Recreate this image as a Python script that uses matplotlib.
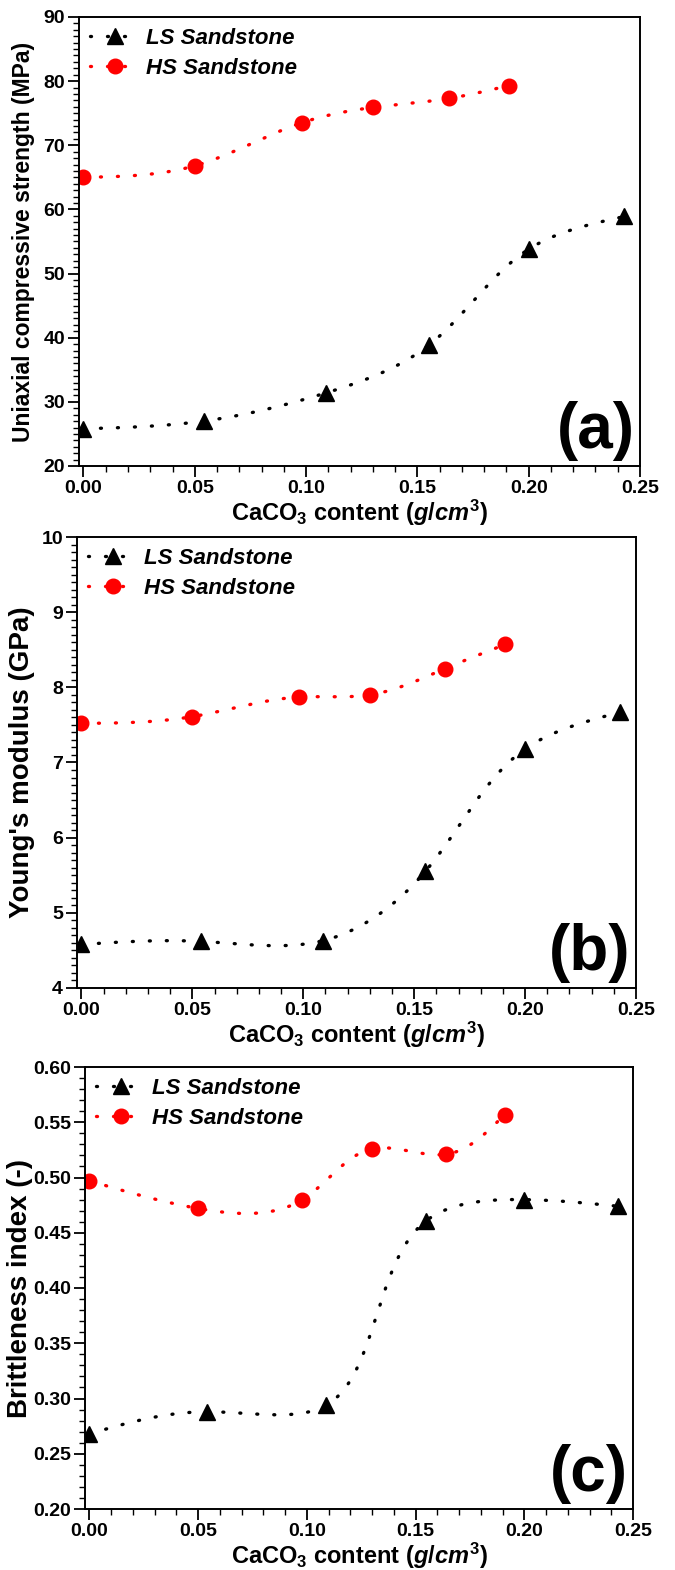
import numpy as np
import matplotlib
matplotlib.use("Agg")
import matplotlib.pyplot as plt
from matplotlib.ticker import MultipleLocator, FormatStrFormatter

plt.rcParams['font.family'] = ['Liberation Sans', 'DejaVu Sans']
plt.rcParams['font.weight'] = 'bold'
plt.rcParams['mathtext.fontset'] = 'custom'
plt.rcParams['mathtext.rm'] = 'Liberation Sans:bold'
plt.rcParams['mathtext.it'] = 'Liberation Sans:bold:italic'
plt.rcParams['mathtext.bf'] = 'Liberation Sans:bold'

# CaCO3 content (g/cm3)
ls_x = [0.0, 0.054, 0.109, 0.155, 0.200, 0.243]
hs_x = [0.0, 0.050, 0.098, 0.130, 0.164, 0.191]

# (a) UCS, MPa
ls_ucs = [25.8, 27.0, 31.4, 38.8, 53.8, 58.9]
hs_ucs = [65.0, 66.8, 73.5, 75.9, 77.3, 79.3]
# (b) Young's modulus, GPa
ls_e = [4.58, 4.62, 4.63, 5.55, 7.18, 7.67]
hs_e = [7.52, 7.61, 7.87, 7.90, 8.25, 8.57]
# (c) brittleness index
ls_bi = [0.268, 0.288, 0.294, 0.461, 0.480, 0.474]
hs_bi = [0.497, 0.472, 0.480, 0.526, 0.521, 0.557]


def natural(t, v, ts):
    k = len(t)
    h = np.diff(t)
    A = np.zeros((k, k))
    b = np.zeros(k)
    A[0, 0] = A[-1, -1] = 1
    for i in range(1, k - 1):
        A[i, i - 1] = h[i - 1]
        A[i, i] = 2 * (h[i - 1] + h[i])
        A[i, i + 1] = h[i]
        b[i] = 6 * ((v[i + 1] - v[i]) / h[i] - (v[i] - v[i - 1]) / h[i - 1])
    m = np.linalg.solve(A, b)
    j = np.clip(np.searchsorted(t, ts) - 1, 0, k - 2)
    d = ts - t[j]
    hj = h[j]
    c = (v[j + 1] - v[j]) / hj - hj * (2 * m[j] + m[j + 1]) / 6
    return v[j] + c * d + m[j] / 2 * d ** 2 + (m[j + 1] - m[j]) / (6 * hj) * d ** 3


def spline(x, y, sx, sy, n=300):
    # parametric spline through the points (connecting line only)
    x = np.asarray(x, float)
    y = np.asarray(y, float)
    px, py = x * sx, y * sy
    t = np.concatenate([[0], np.cumsum(np.hypot(np.diff(px), np.diff(py)))])
    ts = np.linspace(0, t[-1], n)
    return natural(t, x, ts), natural(t, y, ts)


W, H = 675, 1570
fig = plt.figure(figsize=(W / 100, H / 100), dpi=100)

panels = [
    # left, right, top, bottom px, ylim, major, minor, fmt, ylabel, size, label x, letter
    (79, 640, 17, 466, (20, 90), 10, 1, '%d', 'Uniaxial compressive strength (MPa)', 16.5, 35, '(a)',
     ls_ucs, hs_ucs),
    (77, 636, 537, 988, (4, 10), 1, 0.1, '%d', "Young's modulus (GPa)", 20, 35, '(b)',
     ls_e, hs_e),
    (85, 633, 1067, 1509, (0.2, 0.6), 0.05, 0.01, '%.2f', 'Brittleness index (-)', 20, 33, '(c)',
     ls_bi, hs_bi),
]

xlim = (-0.002, 0.25)
dots = (0, (0.3, 4.8))
lw = 2.4
for (l, r, t, bt, ylim, maj, mnr, fmt, ylab, ysz, labx, letter, ls_y, hs_y) in panels:
    ax = fig.add_axes([l / W, 1 - bt / H, (r - l) / W, (bt - t) / H])
    sx = (r - l) / (xlim[1] - xlim[0])
    sy = (bt - t) / (ylim[1] - ylim[0])
    xs, ys = spline(ls_x, ls_y, sx, sy)
    ax.plot(xs, ys, color='black', lw=lw, ls=dots, dash_capstyle='round')
    ax.plot(ls_x, ls_y, ls='none', marker='^', ms=12, color='black')
    xs, ys = spline(hs_x, hs_y, sx, sy)
    ax.plot(xs, ys, color='red', lw=lw, ls=dots, dash_capstyle='round')
    ax.plot(hs_x, hs_y, ls='none', marker='o', ms=10.5, color='red')
    # legend proxies
    ax.plot([], [], color='black', lw=lw, ls=dots, dash_capstyle='round',
            marker='^', ms=12, label='LS Sandstone')
    ax.plot([], [], color='red', lw=lw, ls=dots, dash_capstyle='round',
            marker='o', ms=10.5, label='HS Sandstone')

    ax.set_xlim(*xlim)
    ax.set_ylim(*ylim)
    ax.xaxis.set_major_locator(MultipleLocator(0.05))
    ax.xaxis.set_minor_locator(MultipleLocator(0.01))
    ax.xaxis.set_major_formatter(FormatStrFormatter('%.2f'))
    ax.yaxis.set_major_locator(MultipleLocator(maj))
    ax.yaxis.set_minor_locator(MultipleLocator(mnr))
    ax.yaxis.set_major_formatter(FormatStrFormatter(fmt))
    ax.tick_params(which='major', direction='out', length=8, width=1.3, labelsize=14, pad=2)
    ax.tick_params(which='minor', direction='out', length=4, width=1.0)
    for s in ax.spines.values():
        s.set_linewidth(1.4)
    for lab in ax.get_xticklabels() + ax.get_yticklabels():
        lab.set_fontweight('bold')

    ax.set_xlabel(r'CaCO$_3$ content $\mathit{(g/cm}^3\mathit{)}$', fontsize=17,
                  fontweight='bold', labelpad=1)
    ax.set_ylabel(ylab, fontsize=ysz, fontweight='bold')
    ax.yaxis.set_label_coords((labx - l) / (r - l), 0.5)
    ax.text(0.99, 0.012, letter, transform=ax.transAxes, ha='right', va='bottom',
            fontsize=46, fontweight='bold')
    ax.legend(loc='upper left', frameon=False, handlelength=2.2,
              handletextpad=0.3, labelspacing=0.4, borderaxespad=0.1,
              prop={'weight': 'bold', 'style': 'italic', 'size': 16})

fig.savefig('out.png', dpi=100)
